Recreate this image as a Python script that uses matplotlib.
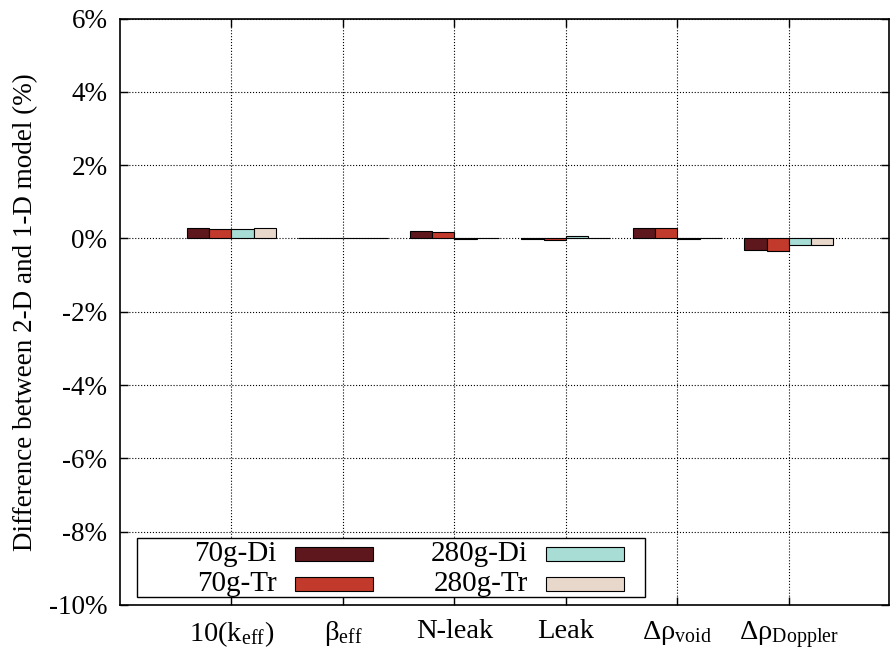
import matplotlib.pyplot as plt
from matplotlib.patches import Rectangle
import numpy as np

plt.rcParams['font.family'] = ['Liberation Serif', 'DejaVu Serif']
plt.rcParams['mathtext.fontset'] = 'custom'
plt.rcParams['mathtext.rm'] = 'Liberation Serif'
plt.rcParams['mathtext.it'] = 'Liberation Serif:italic'

# categories and series (difference in %)
categories = [r'10(k$_{\mathrm{eff}}$)', r'β$_{\mathrm{eff}}$', 'N-leak', 'Leak',
              r'Δρ$_{\mathrm{void}}$', r'Δρ$_{\mathrm{Doppler}}$']
series_names = ['70g-Di', '70g-Tr', '280g-Di', '280g-Tr']
di70 = [0.28, 0.005, 0.21, -0.02, 0.28, -0.32]
tr70 = [0.25, 0.005, 0.18, -0.05, 0.28, -0.33]
di280 = [0.26, 0.005, -0.01, 0.06, -0.01, -0.18]
tr280 = [0.28, 0.005, 0.01, 0.01, 0.01, -0.17]
yticks = [-10, -8, -6, -4, -2, 0, 2, 4, 6]

values = [di70, tr70, di280, tr280]
colors = ['#5e181d', '#c23a2b', '#a8ddd6', '#e8d8cb']

fig = plt.figure(figsize=(8.9, 6.52), dpi=100)
ax = fig.add_axes([0.1348, 0.0721, 0.8643, 0.8995])

x = np.arange(len(categories))
width = 0.2
for i, (vals, c) in enumerate(zip(values, colors)):
    ax.bar(x + (i - 1.5) * width, vals, width, color=c, edgecolor='black',
           linewidth=0.8, zorder=3)

ax.set_xlim(-1, 5.9)
ax.set_ylim(-10, 6)
ax.set_xticks(x)
ax.set_xticklabels(categories, fontsize=20.5)
ax.set_yticks(yticks)
ax.set_yticklabels([f'{t}%' for t in yticks], fontsize=19.5)
ax.set_ylabel('Difference between 2-D and 1-D model (%)', fontsize=19.5, labelpad=8)
ax.tick_params(direction='in', length=6, width=1, top=True, right=True)
ax.tick_params(axis='x', pad=10)
ax.tick_params(axis='y', pad=9)
ax.grid(True, linestyle=':', color='black', linewidth=0.8, zorder=0)
for s in ax.spines.values():
    s.set_linewidth(1.2)

# gnuplot-like legend box
ax.add_patch(Rectangle((0.022, 0.014), 0.66, 0.1, transform=ax.transAxes,
                       facecolor='white', edgecolor='black', linewidth=1, zorder=5))
pos = [(0.204, 0.087), (0.204, 0.036), (0.530, 0.087), (0.530, 0.036)]
for name, c, (tx, ty) in zip(series_names, colors, pos):
    ax.text(tx, ty, name, transform=ax.transAxes, ha='right', va='center',
            fontsize=21, zorder=6)
    ax.add_patch(Rectangle((tx + 0.024, ty - 0.012), 0.101, 0.024,
                           transform=ax.transAxes, facecolor=c,
                           edgecolor='black', linewidth=0.8, zorder=6))

fig.savefig('out.png', dpi=100)
